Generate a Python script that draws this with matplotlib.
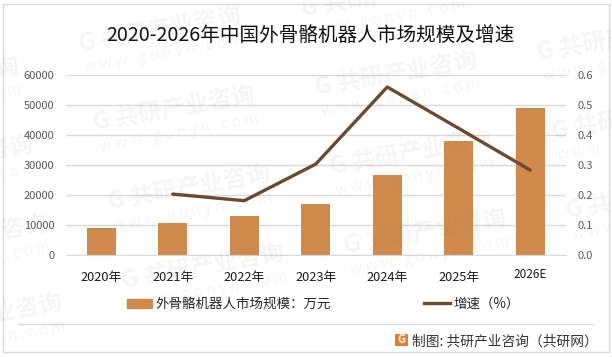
import matplotlib
matplotlib.use("Agg")
import matplotlib.pyplot as plt
from matplotlib.lines import Line2D
from matplotlib.patches import Patch, Rectangle
from matplotlib.transforms import ScaledTranslation

plt.rcParams['font.family'] = ['Noto Sans CJK SC', 'DejaVu Sans']

years = ["2020年", "2021年", "2022年", "2023年", "2024年", "2025年", "2026E"]
market = [9100, 10800, 13100, 17100, 26800, 38100, 49100]
growth_years = years[1:]
growth = [0.204, 0.182, 0.304, 0.561, 0.423, 0.284]
left_ticks = [0, 10000, 20000, 30000, 40000, 50000, 60000]
right_ticks = [0.0, 0.1, 0.2, 0.3, 0.4, 0.5, 0.6]

W, H = 612, 357
bar_color = "#d08b4c"
line_color = "#6b4a2f"
grid_color = "#d9d9d9"
tick_color = "#595959"

fig = plt.figure(figsize=(W / 100, H / 100), dpi=100)


def px(x, y):
    return x / W, 1 - y / H


# plot area in pixels: x 65.5-566, y 75.3-255.3
ax = fig.add_axes([65.5 / W, 1 - 255.3 / H, 500.5 / W, 180 / H])
ax.bar(years, market, width=0.4, color=bar_color, zorder=2)
ax.set_xlim(-0.5, 6.5)
ax.set_ylim(0, 60000)
ax.set_yticks(left_ticks)
ax.grid(axis="y", color=grid_color, linewidth=1, zorder=0)
ax.set_axisbelow(True)
for s in ax.spines.values():
    s.set_visible(False)
ax.spines["bottom"].set_visible(True)
ax.spines["bottom"].set_color(grid_color)
ax.tick_params(axis="y", length=0, pad=8, labelsize=8, labelcolor=tick_color)
ax.tick_params(axis="x", length=0, pad=11, labelsize=9.2, labelcolor="#1a1a1a")
last = ax.get_xticklabels()[-1]
last.set_transform(last.get_transform() + ScaledTranslation(0, 3 / 100, fig.dpi_scale_trans))
last.set_fontsize(8.5)

ax2 = ax.twinx()
ax2.plot(growth_years, growth, color=line_color, linewidth=2.4, solid_capstyle="round")
ax2.set_ylim(0, 0.6)
ax2.set_yticks(right_ticks)
ax2.set_yticklabels([f"{v:.1f}" for v in right_ticks])
for s in ax2.spines.values():
    s.set_visible(False)
ax2.tick_params(axis="y", length=0, pad=8, labelsize=8, labelcolor=tick_color)

fig.text(*px(310, 35), "2020-2026年中国外骨骼机器人市场规模及增速", fontsize=14.1,
         color="#111111", ha="center", va="center")

handles = [Patch(color=bar_color), Line2D([], [], color=line_color, linewidth=2.4)]
fig.legend(handles, ["外骨骼机器人市场规模：万元", "增速（%）"], ncol=2, frameon=False,
           loc="center", bbox_to_anchor=px(323, 304), fontsize=9.7, handlelength=1.9,
           handleheight=0.6, handletextpad=0.25, columnspacing=6.9, labelcolor="#262626")

# outer frame and footer
fig.add_artist(Rectangle(px(3.5, 352), 605 / W, 348.5 / H, fill=False,
                         edgecolor="#d9d9d9", linewidth=1, transform=fig.transFigure))
fig.add_artist(Line2D([18 / W, 593 / W], [1 - 324 / H] * 2, color="#d9d9d9", linewidth=1))
fig.add_artist(Rectangle(px(395, 346), 13 / W, 12 / H, facecolor="#f0782a", edgecolor="none",
                         transform=fig.transFigure))
fig.text(*px(401.5, 339.7), "G", color="white", fontsize=8, fontweight="bold", ha="center", va="center")
fig.text(*px(412, 341), "制图: 共研产业咨询（共研网）", fontsize=9.9, color="#333333", ha="left", va="center")

# watermarks: repeated on a slanted lattice
for col in range(-1, 3):
    for row in range(0, 4):
        cx = 160 + col * 222 + row * 14.5
        cy = 30 - col * 35 + row * 79 + (15 if col == -1 else 0)
        if cy > 345:
            continue
        fig.text(*px(cx, cy), "G 共研产业咨询", fontsize=17, fontweight="bold", color="#808080",
                 alpha=0.08, rotation=10, rotation_mode="anchor", ha="center", va="center", zorder=5)
        fig.text(*px(cx + 4, cy + 24), "w w w . g o n y n . c o m", fontsize=11, color="#808080",
                 alpha=0.08, rotation=10, rotation_mode="anchor", ha="center", va="center", zorder=5)

fig.savefig("out.png", dpi=100)
